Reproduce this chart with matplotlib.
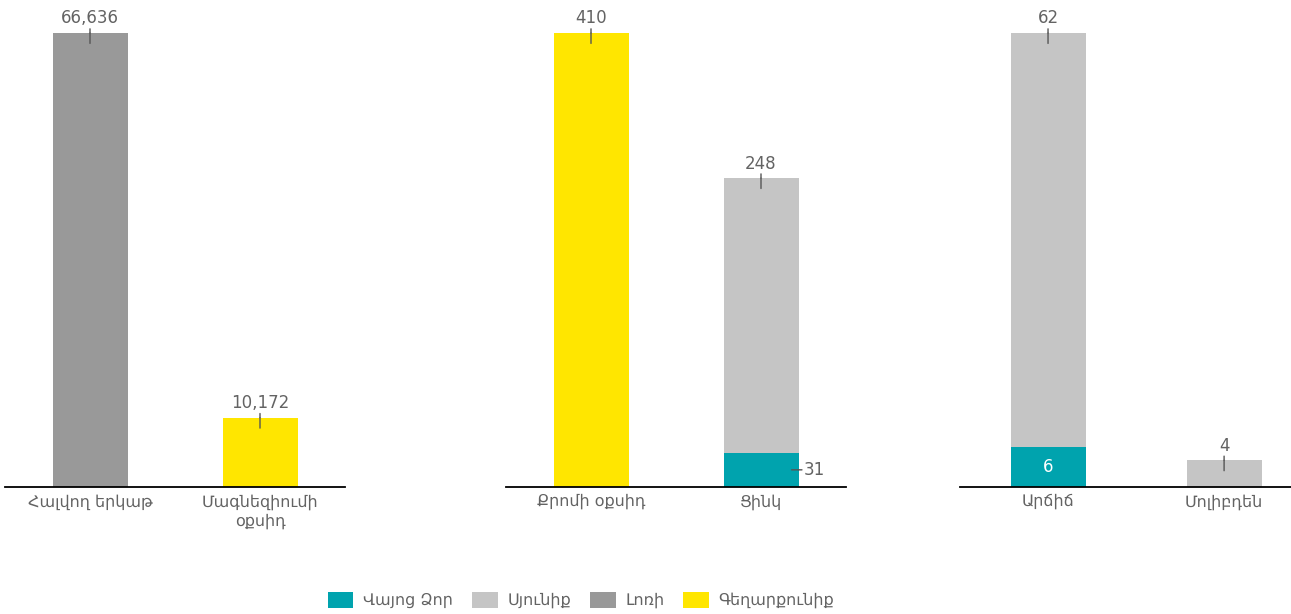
import matplotlib as mpl
mpl.use("Agg")

import matplotlib.pyplot as plt
from matplotlib.patches import Patch

# ---------------------------------------------------------------
# Production volumes by mineral, three panels with own scales
# ---------------------------------------------------------------

CATEGORIES = [
    ["Հալվող երկաթ", "Մագնեզիումի\nօքսիդ"],
    ["Քրոմի օքսիդ", "Ցինկ"],
    ["Արճիճ", "Մոլիբդեն"],
]

REGIONS = ["Վայոց Ձոր", "Սյունիք", "Լոռի", "Գեղարքունիք"]
COLORS = ["#00A3AE", "#C5C5C5", "#999999", "#FFE600"]

# values per panel, per bar (stack order: bottom -> top)
VAYOTS_DZOR = [[0, 0], [0, 31], [6, 0]]
SYUNIK = [[0, 0], [0, 248], [62, 4]]
LORI = [[66636, 0], [0, 0], [0, 0]]
GEGHARKUNIK = [[0, 10172], [410, 0], [0, 0]]

SERIES = [VAYOTS_DZOR, SYUNIK, LORI, GEGHARKUNIK]

# where the value of a lower stacked segment is written
LOWER_LABEL = ["side", "side", "inside"]

FIG_W, FIG_H = 1291, 614
PANEL_PX = [(5, 345), (506, 846), (960, 1291)]
XLIMS = [(-0.5, 1.5), (-0.5, 1.5), (-0.5, 1.38)]
BASE_PX = 487
TOP_PX = 33
BAR_PX = 75

TEXT = "#636363"
TICK = "#555555"

mpl.rcParams.update(
    {
        "font.family": ["DejaVu Sans"],
        "figure.facecolor": "white",
        "savefig.facecolor": "white",
    }
)


def fmt(v):
    return f"{v:,}"


def tick_line(ax, xy, offset):
    ax.annotate("", xy=xy, xytext=offset, textcoords="offset points",
                arrowprops=dict(arrowstyle="-", color=TICK, lw=1.0,
                                shrinkA=0, shrinkB=0),
                annotation_clip=False, zorder=4)


def draw_panel(fig, p):
    x0, x1 = PANEL_PX[p]
    ax = fig.add_axes(
        [x0 / FIG_W, (FIG_H - BASE_PX) / FIG_H, (x1 - x0) / FIG_W,
         (BASE_PX - TOP_PX) / FIG_H]
    )
    lo, hi = XLIMS[p]
    width = BAR_PX / ((x1 - x0) / (hi - lo))

    totals = [sum(s[p][i] for s in SERIES) for i in range(2)]
    ymax = max(totals)

    for i in range(2):
        bottom = 0
        segs = []
        for s, color in zip(SERIES, COLORS):
            v = s[p][i]
            if v == 0:
                continue
            ax.bar(i, v, width=width, bottom=bottom, color=color,
                   edgecolor="none", zorder=2)
            segs.append((bottom, v))
            bottom += v

        # value of top segment above the bar, with a small tick
        top_v = segs[-1][1]
        tick_line(ax, (i, bottom), (0, -7.5))
        tick_line(ax, (i, bottom), (0, 3))
        ax.annotate(fmt(top_v), xy=(i, bottom), xytext=(0, 4),
                    textcoords="offset points", ha="center", va="bottom",
                    fontsize=12, color=TEXT, annotation_clip=False)

        # lower stacked segment value
        if len(segs) > 1:
            b, v = segs[0]
            ymid = b + v / 2
            if LOWER_LABEL[p] == "inside":
                ax.text(i, ymid, fmt(v), ha="center", va="center",
                        fontsize=12, color="white", zorder=5)
            else:
                edge = (i + width / 2, ymid)
                tick_line(ax, edge, (-5, 0))
                tick_line(ax, edge, (2.5, 0))
                ax.annotate(fmt(v), xy=edge, xytext=(3.5, 0),
                            textcoords="offset points", ha="left",
                            va="center", fontsize=12, color=TEXT,
                            annotation_clip=False)

    ax.set_xlim(lo, hi)
    ax.set_ylim(0, ymax)
    ax.set_xticks([0, 1])
    ax.set_xticklabels(CATEGORIES[p], fontsize=11.5, color=TEXT,
                       linespacing=1.35)
    ax.tick_params(axis="x", length=0, pad=5)
    ax.set_yticks([])
    for side in ["top", "right", "left"]:
        ax.spines[side].set_visible(False)
    ax.spines["bottom"].set_color("black")
    ax.spines["bottom"].set_linewidth(1.3)
    ax.spines["bottom"].set_zorder(3)
    ax.patch.set_alpha(0)
    return ax


def main():
    fig = plt.figure(figsize=(FIG_W / 100, FIG_H / 100), dpi=100)

    for p in range(len(CATEGORIES)):
        draw_panel(fig, p)

    handles = [Patch(facecolor=c, edgecolor="none", label=r)
               for r, c in zip(REGIONS, COLORS)]
    leg = fig.legend(
        handles=handles,
        loc="center",
        bbox_to_anchor=(581 / FIG_W, 1 - 600 / FIG_H),
        ncol=4,
        frameon=False,
        fontsize=11.5,
        handlelength=1.6,
        handleheight=1.2,
        handletextpad=0.6,
        columnspacing=1.2,
    )
    for t in leg.get_texts():
        t.set_color(TEXT)

    fig.savefig("out.png", dpi=100)
    plt.close(fig)


if __name__ == "__main__":
    main()
